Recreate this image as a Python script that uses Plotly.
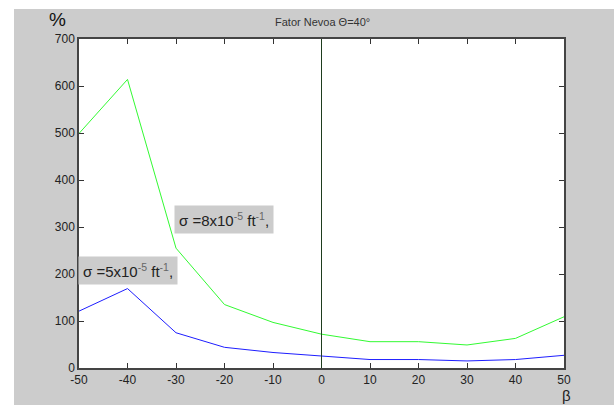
import plotly.graph_objects as go

beta = [-50, -40, -30, -20, -10, 0, 10, 20, 30, 40, 50]
sigma8 = [499, 614, 255, 135, 97, 72, 56, 56, 49, 63, 109]
sigma5 = [121, 169, 75, 44, 33, 25, 18, 18, 15, 18, 27]
xticks = [-50, -40, -30, -20, -10, 0, 10, 20, 30, 40, 50]
xticklabels = ["-50", "-40", "-30", "-20", "-10", "0", "10", "20", "30", "40", "50"]
yticks = [0, 100, 200, 300, 400, 500, 600, 700]

W, H = 614, 405
L, R, T, B = 79, 50, 39, 37
pw, ph = W - L - R, H - T - B

def px(xp):
    return (xp - L) / pw

def py(yp):
    return (H - B - yp) / ph

fig = go.Figure()
fig.add_trace(go.Scatter(x=beta, y=sigma8, mode="lines",
                         line=dict(color="rgb(50,250,50)", width=1), showlegend=False))
fig.add_trace(go.Scatter(x=beta, y=sigma5, mode="lines",
                         line=dict(color="rgb(30,30,255)", width=1), showlegend=False))

shapes = [
    dict(type="rect", xref="paper", yref="paper", x0=px(-5), x1=px(W + 5), y0=py(9), y1=py(-5),
         fillcolor="white", line=dict(width=0), layer="above"),
    dict(type="rect", xref="paper", yref="paper", x0=px(-5), x1=px(14), y0=py(H + 5), y1=py(-5),
         fillcolor="white", line=dict(width=0), layer="above"),
    dict(type="line", xref="x", yref="paper", x0=0, x1=0, y0=0, y1=1,
         line=dict(color="rgb(30,60,30)", width=1)),
]

sup = "<span style='color:#666'>{}</span>"
lab8 = "σ =8x10<sup>" + sup.format("-5") + "</sup> ft<sup>" + sup.format("-1") + "</sup>,"
lab5 = "σ =5x10<sup>" + sup.format("-5") + "</sup> ft<sup>" + sup.format("-1") + "</sup>,"

annotations = [
    dict(text="Fator Nevoa Θ=40°", xref="paper", yref="paper", x=px(322), y=py(22),
         xanchor="center", yanchor="middle",
         showarrow=False, font=dict(family="Arial", size=11, color="#333")),
    dict(text="%", xref="paper", yref="paper", x=px(57), y=py(20),
         xanchor="center", yanchor="middle",
         showarrow=False, font=dict(family="Arial", size=19, color="#111")),
    dict(text="β", xref="paper", yref="paper", x=px(566), y=py(396),
         xanchor="center", yanchor="middle",
         showarrow=False, font=dict(family="Arial", size=15, color="#222")),
    dict(text=lab8, xref="x", yref="y", x=-20.1, y=317,
         xanchor="center", yanchor="middle",
         showarrow=False, bgcolor="#cccccc", font=dict(family="Arial", size=15, color="#222"),
         borderpad=4),
    dict(text=lab5, xref="x", yref="y", x=-40, y=208,
         xanchor="center", yanchor="middle",
         showarrow=False, bgcolor="#cccccc", font=dict(family="Arial", size=15, color="#222"),
         borderpad=4),
]

fig.update_layout(
    width=W, height=H,
    margin=dict(l=L, r=R, t=T, b=B),
    paper_bgcolor="#cccccc", plot_bgcolor="white",
    shapes=shapes, annotations=annotations,
    font=dict(family="Arial", size=12, color="#222"),
)
fig.update_xaxes(range=[-50, 50], tickvals=xticks, ticktext=xticklabels, ticks="inside", ticklen=5,
                 tickcolor="#333", showgrid=False, zeroline=False, showline=True,
                 linecolor="#444", linewidth=1.5, mirror="ticks",
                 tickfont=dict(family="Arial", size=12, color="#222"))
fig.update_yaxes(range=[0, 700], tickvals=yticks, ticks="inside", ticklen=5,
                 tickcolor="#333", showgrid=False, zeroline=False, showline=True,
                 linecolor="#444", linewidth=1.5, mirror="ticks",
                 tickfont=dict(family="Arial", size=12, color="#222"))

fig.write_html("out.html")
